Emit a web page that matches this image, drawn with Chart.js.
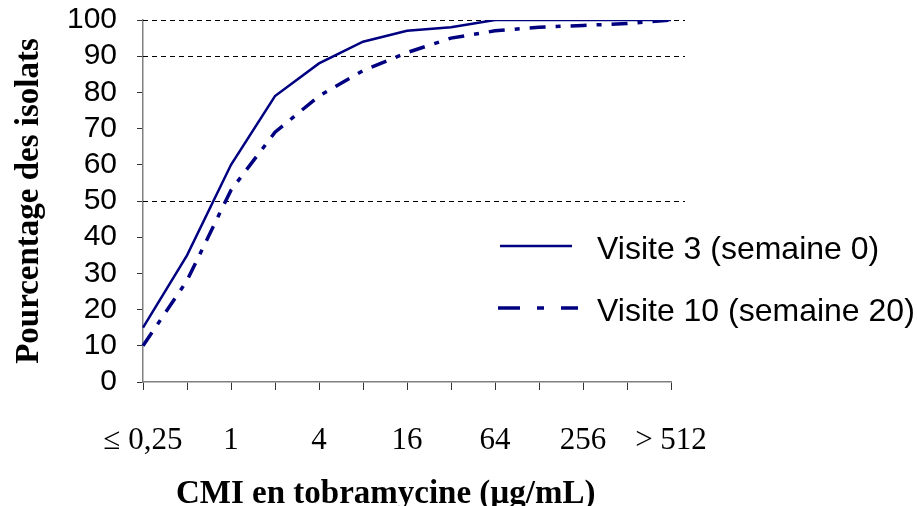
<!DOCTYPE html>
<html>
<head>
<meta charset="utf-8">
<script src="https://cdn.jsdelivr.net/npm/chart.js@4/dist/chart.umd.min.js"></script>
<style>
html,body{margin:0;padding:0;background:#fff;}
#c{display:block;}
</style>
</head>
<body>
<canvas id="c" width="917" height="506"></canvas>
<script>
const categories = ['≤ 0,25','0,5','1','2','4','8','16','32','64','128','256','512','> 512'];
const visite3 = [15, 35, 60, 79, 88, 94, 97, 98, 100, 100, 100, 100, 100];
const visite10 = [10, 28, 53, 69, 79, 86, 91, 95, 97, 98, 98.5, 99, 100];
const seriesLabels = ['Visite 3 (semaine 0)', 'Visite 10 (semaine 20)'];
const dashedGridValues = [50, 90, 100];
const yTitle = 'Pourcentage des isolats';
const xTitle = 'CMI en tobramycine (µg/mL)';

const NAVY = '#000080';

const extrasPlugin = {
  id: 'extras',
  beforeDatasetsDraw(chart) {
    const {ctx, chartArea, scales} = chart;
    ctx.save();
    ctx.strokeStyle = '#000';
    ctx.lineWidth = 1;
    ctx.setLineDash([5, 4]);
    dashedGridValues.forEach(v => {
      const y = Math.round(scales.y.getPixelForValue(v)) + 0.5;
      ctx.beginPath();
      ctx.moveTo(chartArea.left, y);
      ctx.lineTo(chartArea.right + 14, y);
      ctx.stroke();
    });
    ctx.restore();
  },
  afterDraw(chart) {
    const {ctx, scales} = chart;
    ctx.save();
    const legendY = [246, 308];
    chart.data.datasets.forEach((ds, i) => {
      const y = legendY[i];
      ctx.strokeStyle = ds.borderColor;
      ctx.lineWidth = ds.borderWidth;
      ctx.setLineDash(i === 0 ? [] : [22, 17, 7, 17]);
      ctx.beginPath();
      ctx.moveTo(i === 0 ? 500 : 498, y);
      ctx.lineTo(i === 0 ? 572 : 578, y);
      ctx.stroke();
      ctx.setLineDash([]);
      ctx.fillStyle = '#000';
      ctx.font = '32px "Liberation Sans", Arial, sans-serif';
      ctx.textAlign = 'left';
      ctx.textBaseline = 'middle';
      ctx.fillText(ds.label, 597, y + 4);
    });
    ctx.font = 'bold 33px "Liberation Serif", "Times New Roman", serif';
    ctx.fillStyle = '#000';
    ctx.textAlign = 'left';
    ctx.textBaseline = 'alphabetic';
    ctx.fillText(xTitle, 176, 503);
    ctx.save();
    ctx.translate(38, (scales.y.top + scales.y.bottom) / 2);
    ctx.rotate(-Math.PI / 2);
    ctx.textAlign = 'center';
    ctx.fillText(yTitle, 0, 0);
    ctx.restore();
    ctx.restore();
  }
};

new Chart(document.getElementById('c'), {
  type: 'line',
  data: {
    labels: categories,
    datasets: [
      {
        label: seriesLabels[0],
        data: visite3,
        borderColor: NAVY,
        backgroundColor: NAVY,
        borderWidth: 2.5,
        pointRadius: 0,
        tension: 0,
        fill: false
      },
      {
        label: seriesLabels[1],
        data: visite10,
        borderColor: NAVY,
        backgroundColor: NAVY,
        borderWidth: 3.5,
        borderDash: [16, 10, 5, 10],
        pointRadius: 0,
        tension: 0,
        fill: false
      }
    ]
  },
  options: {
    responsive: false,
    animation: false,
    devicePixelRatio: 1,
    layout: { padding: { top: 20, right: 246, left: 0, bottom: 0 } },
    plugins: { legend: { display: false }, tooltip: { enabled: false } },
    scales: {
      x: {
        type: 'category',
        offset: false,
        afterFit(scale) { scale.height = 124; scale.paddingLeft = 0; scale.paddingRight = 0; },
        grid: { display: true, drawOnChartArea: false, drawTicks: true, tickLength: 8, tickColor: '#333', tickWidth: 1 },
        border: { display: true, color: '#808080', width: 1.5 },
        ticks: {
          autoSkip: false,
          maxRotation: 0,
          minRotation: 0,
          padding: 32,
          color: '#000',
          font: { family: '"Liberation Serif", "Times New Roman", serif', size: 31 },
          callback(value, index) { return index % 2 === 0 ? this.getLabelForValue(value) : ''; }
        }
      },
      y: {
        min: 0,
        max: 100,
        afterFit(scale) { scale.width = 143; scale.paddingTop = 0; scale.paddingBottom = 0; },
        grid: { display: true, drawOnChartArea: false, drawTicks: true, tickLength: 6, tickColor: '#333', tickWidth: 1 },
        border: { display: true, color: '#808080', width: 1.5 },
        ticks: {
          stepSize: 10,
          autoSkip: false,
          padding: 20,
          color: '#000',
          font: { family: '"Liberation Sans", Arial, sans-serif', size: 30 }
        }
      }
    }
  },
  plugins: [extrasPlugin]
});
</script>
</body>
</html>
